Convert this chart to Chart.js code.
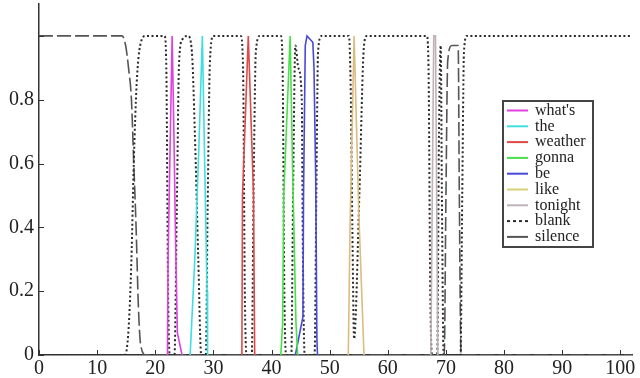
<!DOCTYPE html>
<html>
<head>
<meta charset="utf-8">
<script src="https://cdn.jsdelivr.net/npm/chart.js@4.4.1/dist/chart.umd.min.js"></script>
<style>
  html, body { margin: 0; padding: 0; background: #fff; }
  #wrap { width: 640px; height: 378px; }
</style>
</head>
<body>
<div id="wrap"><canvas id="chart" width="640" height="378"></canvas></div>
<script>
// ---- data (frame index vs. posterior) ----
const xTicks = [0, 10, 20, 30, 40, 50, 60, 70, 80, 90, 100];
const yTicks = [0, 0.2, 0.4, 0.6, 0.8, 1];

const whatsX = [22.1, 22.2, 22.9, 23.2, 23.5, 23.8, 24.6];
const whatsY = [0, 0.3, 1, 0.7, 0.35, 0.07, 0];

const theX = [26.0, 26.8, 27.5, 28.1, 28.4, 28.9, 29.0];
const theY = [0, 0.3, 0.65, 1, 0.7, 0.2, 0];

const weatherX = [34.9, 35.0, 36.0, 36.9, 37.1];
const weatherY = [0, 0.5, 1, 0.5, 0];

const gonnaX = [41.6, 41.9, 42.1, 43.2, 43.6, 44.2, 44.5];
const gonnaY = [0, 0.1, 0.5, 1, 0.6, 0.1, 0];

const beX = [44.1, 45.4, 45.5, 45.8, 46.1, 47.1, 47.3, 47.6, 47.8, 47.9];
const beY = [0, 0.12, 0.5, 0.97, 1, 0.98, 0.9, 0.55, 0.05, 0];

const likeX = [53.2, 53.5, 54.2, 55.0, 55.9];
const likeY = [0, 0.4, 1, 0.45, 0];

const tonightX = [67.4, 67.9, 68.2, 68.6];
const tonightY = [0, 1, 1, 0];

const blankX = [0, 14.8, 15.4, 15.9, 16.3, 16.8, 17.4, 18.4,
  21.6, 21.9, 22.2, 22.5, 23.3, 23.7, 24.1, 24.7,
  25.6, 26.3, 26.8, 27.4, 27.9, 28.7, 29.0, 29.4, 30.0,
  34.7, 35.1, 35.4, 35.7, 36.6, 36.9, 37.3, 38.0,
  41.6, 41.9, 42.2, 42.5, 43.4, 43.7, 44.1, 44.6, 45.2, 45.4, 45.7,
  47.4, 47.7, 48.0, 48.6, 53.3, 53.6, 53.9, 54.2, 55.1, 55.9, 56.4,
  66.7, 67.0, 67.3, 67.6, 68.5, 68.8, 69.1, 69.3, 69.6,
  72.5, 72.8, 73.1, 73.6, 102];
const blankY = [0, 0, 0.08, 0.3, 0.6, 0.85, 0.97, 1,
  1, 0.9, 0.2, 0, 0, 0.45, 0.92, 0.99,
  1, 0.95, 0.7, 0.3, 0, 0, 0.45, 0.92, 1,
  1, 0.9, 0.2, 0, 0, 0.5, 0.95, 1,
  1, 0.9, 0.2, 0, 0, 0.5, 0.97, 0.9, 0.8, 0.3, 0,
  0, 0.5, 0.95, 1, 1, 0.85, 0.4, 0.05, 0.5, 0.97, 1,
  1, 0.9, 0.2, 0, 0, 0.7, 0.97, 0.5, 0,
  0, 0.5, 0.95, 1, 1];

const silenceX = [0, 14.3, 14.9, 15.4, 15.9, 16.3, 16.7, 17.1, 17.5, 18.4,
  69.7, 70.0, 70.3, 71.0, 72.1, 72.3, 72.6, 102];
const silenceY = [1, 1, 0.97, 0.9, 0.8, 0.6, 0.4, 0.15, 0.03, 0,
  0, 0.5, 0.92, 0.97, 0.97, 0.5, 0, 0];

function pts(xs, ys) {
  return xs.map(function(x, i) { return { x: x, y: ys[i] }; });
}

const SERIF = "'Liberation Serif', 'Times New Roman', serif";

function word(label, xs, ys, color) {
  return {
    label: label, data: pts(xs, ys),
    borderColor: color, backgroundColor: color,
    borderWidth: 1.6, pointRadius: 0, tension: 0
  };
}

// inward tick marks on the two axes
const innerTicks = {
  id: 'innerTicks',
  afterDraw: function(chart) {
    const ctx = chart.ctx, a = chart.chartArea;
    const xs = chart.scales.x, ys = chart.scales.y;
    ctx.save();
    ctx.strokeStyle = '#333';
    ctx.lineWidth = 1;
    ctx.beginPath();
    xTicks.forEach(function(v) {
      const p = Math.round(xs.getPixelForValue(v)) + 0.5;
      ctx.moveTo(p, a.bottom); ctx.lineTo(p, a.bottom - 5);
    });
    yTicks.forEach(function(v) {
      const p = Math.round(ys.getPixelForValue(v)) + 0.5;
      ctx.moveTo(a.left, p); ctx.lineTo(a.left + 5, p);
    });
    ctx.stroke();
    ctx.restore();
  }
};

// boxed legend drawn inside the plot
const boxLegend = {
  id: 'boxLegend',
  afterDraw: function(chart) {
    const ctx = chart.ctx;
    const bx = 503, by = 101, bw = 90, bh = 146;
    ctx.save();
    ctx.fillStyle = '#fff';
    ctx.fillRect(bx, by, bw, bh);
    ctx.strokeStyle = '#444';
    ctx.lineWidth = 2;
    ctx.strokeRect(bx, by, bw, bh);
    ctx.font = '16px ' + SERIF;
    ctx.textBaseline = 'middle';
    ctx.textAlign = 'left';
    chart.data.datasets.forEach(function(ds, i) {
      const y = by + 9.5 + i * 15.8;
      ctx.beginPath();
      ctx.strokeStyle = ds.legendColor || ds.borderColor;
      ctx.lineWidth = 2;
      ctx.setLineDash(ds.label === 'blank' ? [3, 3] : []);
      ctx.moveTo(bx + 4, y); ctx.lineTo(bx + 25, y);
      ctx.stroke();
      ctx.setLineDash([]);
      ctx.fillStyle = '#222';
      ctx.fillText(ds.label, bx + 32, y);
    });
    ctx.restore();
  }
};

new Chart(document.getElementById('chart').getContext('2d'), {
  type: 'line',
  data: {
    datasets: [
      word("what's", whatsX, whatsY, '#e040e0'),
      word('the', theX, theY, '#40dede'),
      word('weather', weatherX, weatherY, '#e04848'),
      word('gonna', gonnaX, gonnaY, '#48e048'),
      word('be', beX, beY, '#4848d8'),
      Object.assign(word('like', likeX, likeY, '#dcbc80'), { legendColor: '#d8d078' }),
      word('tonight', tonightX, tonightY, '#c0b0b8'),
      {
        label: 'blank', data: pts(blankX, blankY),
        borderColor: '#2a2a2a', borderWidth: 2, borderDash: [2, 2.5],
        pointRadius: 0, cubicInterpolationMode: 'monotone'
      },
      {
        label: 'silence', data: pts(silenceX, silenceY),
        borderColor: '#555', borderWidth: 1.6, borderDash: [14, 4],
        pointRadius: 0, cubicInterpolationMode: 'monotone'
      }
    ]
  },
  options: {
    responsive: false,
    animation: false,
    devicePixelRatio: 1,
    layout: { padding: { top: 4, right: 8, left: 0, bottom: 0 } },
    plugins: { legend: { display: false }, tooltip: { enabled: false } },
    scales: {
      x: {
        type: 'linear', min: 0, max: 102,
        grid: { display: false, drawTicks: false },
        border: { display: true, color: '#333', width: 1.5 },
        afterBuildTicks: function(s) { s.ticks = xTicks.map(function(v) { return { value: v }; }); },
        afterFit: function(s) { s.height = 23; s.paddingLeft = 0; s.paddingRight = 0; },
        ticks: { color: '#222', padding: 2, maxRotation: 0, font: { family: SERIF, size: 20 } }
      },
      y: {
        type: 'linear', min: 0, max: 1.1,
        grid: { display: false, drawTicks: false },
        border: { display: true, color: '#333', width: 1.5 },
        afterBuildTicks: function(s) { s.ticks = yTicks.map(function(v) { return { value: v }; }); },
        afterFit: function(s) { s.width = 39; s.paddingTop = 0; s.paddingBottom = 0; },
        ticks: {
          color: '#222', padding: 5, font: { family: SERIF, size: 20 },
          callback: function(v) { return v === 1 ? '' : (v === 0 ? '0' : v.toFixed(1)); }
        }
      }
    }
  },
  plugins: [innerTicks, boxLegend]
});
</script>
</body>
</html>
